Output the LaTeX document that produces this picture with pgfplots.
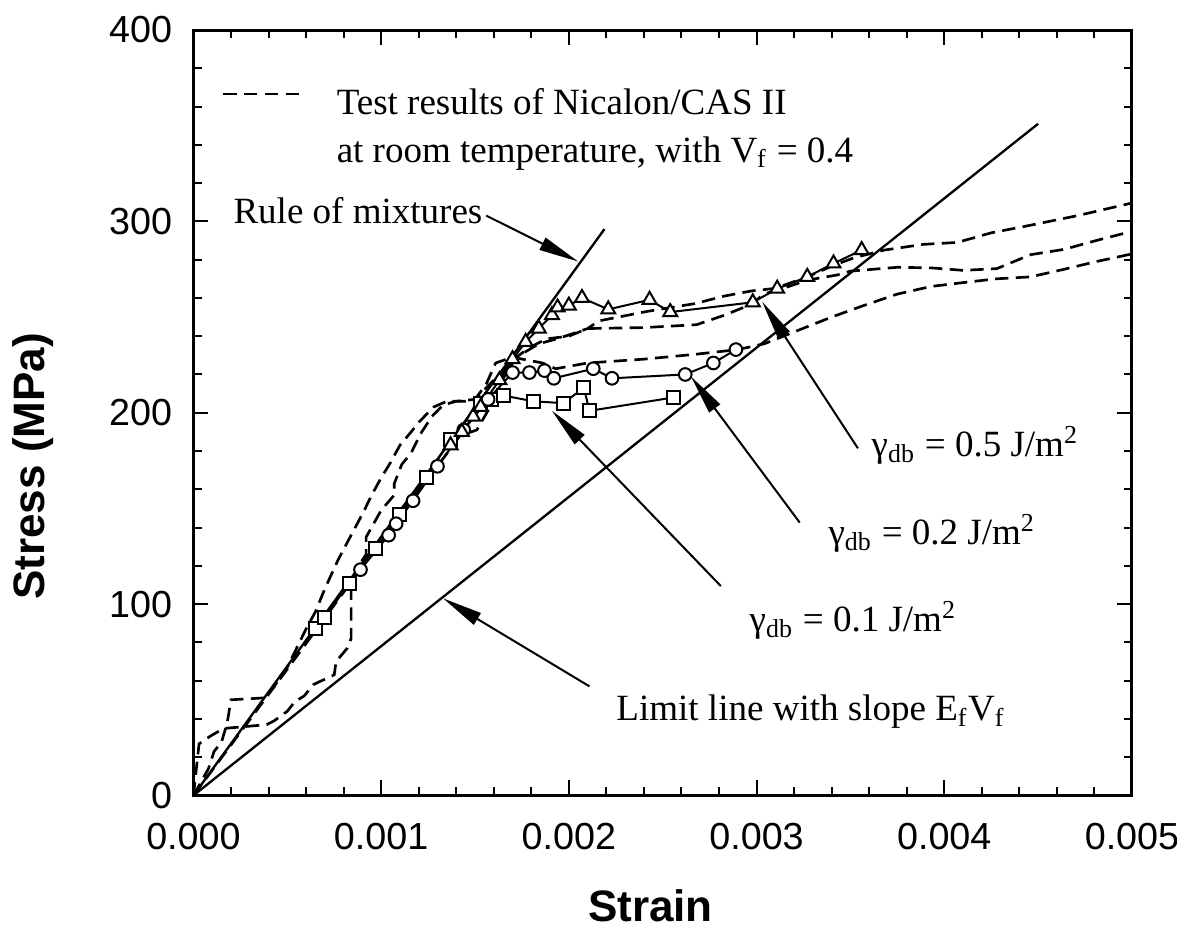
\documentclass[border=0pt]{standalone}
\usepackage{fontspec}
\setmainfont{Liberation Serif}
\setsansfont{Liberation Sans}
\usepackage{pgfplots}
\pgfplotsset{compat=1.18}
\usetikzlibrary{arrows.meta}
\newcommand{\annfont}{\fontsize{11.1}{13}\selectfont\rmfamily}
\tikzset{
  dashcurve/.style={black, line width=0.8pt, dash pattern=on 4pt off 2.2pt},
  arr/.style={black, line width=0.6pt, -{Triangle[length=12pt,width=4pt]}},
  ann/.style={anchor=base west, inner sep=0pt, font=\annfont},
}
\begin{document}
\begin{tikzpicture}
\begin{axis}[
  name=ax,
  scale only axis,
  width=281.4pt, height=229.5pt,
  xmin=0, xmax=0.005, ymin=0, ymax=400,
  scaled x ticks=false,
  axis line style={line width=0.9pt},
  xtick={0,0.001,0.002,0.003,0.004,0.005},
  xticklabels={0.000,0.001,0.002,0.003,0.004,0.005},
  ytick={0,100,200,300,400},
  yticklabels={0,100,200,300,400},
  minor x tick num=4, minor y tick num=4,
  tick align=inside,
  xticklabel pos=lower, yticklabel pos=left,
  xtick pos=both, ytick pos=both,
  major tick length=4.5pt, minor tick length=2.5pt,
  every tick/.style={black, line width=0.6pt},
  ticklabel style={font=\sffamily\fontsize{11.3}{13}\selectfont},
  xticklabel style={yshift=-4.7pt},
  yticklabel style={xshift=-2.9pt},
  xlabel={Strain}, ylabel={Stress (MPa)},
  every axis x label/.style={at={(axis description cs:0.487,-0.144)}, anchor=center, font=\sffamily\bfseries\fontsize{13.2}{16}\selectfont},
  every axis y label/.style={at={(axis description cs:-0.171,0.43)}, rotate=90, anchor=center, font=\sffamily\bfseries\fontsize{13.2}{16}\selectfont},
]
% test curves (dashed)
\addplot[dashcurve] coordinates {
(0,0) (0.00008,14) (0.00011,23) (0.00015,28) (0.00018,38) (0.0002,50) (0.00038,51)
(0.00043,57) (0.0005,67) (0.00055,77) (0.0006,87) (0.00065,96) (0.0007,108)
(0.00077,123) (0.00084,136) (0.0009,147) (0.00095,157) (0.001,166) (0.00105,174)
(0.0011,183) (0.00116,190) (0.0012,195) (0.00128,203) (0.00135,206) (0.00145,206)
(0.0015,207) (0.00156,215) (0.00161,226) (0.0017,229) (0.00186,226) (0.00193,223)
(0.0021,226) (0.0024,228) (0.00267,230.5) (0.0029,233) (0.00304,236) (0.00322,243)
(0.0034,250) (0.00357,256) (0.00375,262) (0.00393,266) (0.0041,268) (0.00428,270)
(0.00446,271) (0.00464,275) (0.00481,279) (0.005,283)};
\addplot[dashcurve] coordinates {
(0,0) (0.00003,27) (0.00009,31) (0.00016,35) (0.00039,37) (0.00043,39) (0.0005,44)
(0.00054,49) (0.00059,52) (0.00064,58) (0.00075,63) (0.00076,70) (0.00082,77)
(0.00084,82) (0.00084,112) (0.00088,120) (0.00092,126) (0.00092,135) (0.001,149)
(0.00107,157) (0.00107,163) (0.00111,173) (0.00116,179) (0.00121,189) (0.00127,198)
(0.00133,204) (0.0014,206) (0.0015,207) (0.00165,222) (0.00172,229) (0.00179,234)
(0.00188,238.6) (0.002,240) (0.0021,244) (0.0024,244.5) (0.00268,246) (0.00283,251)
(0.00297,256.6) (0.00304,262) (0.00316,265.6) (0.00327,269.3) (0.00343,272) (0.0035,274)
(0.00375,276) (0.00393,275.7) (0.0041,274.4) (0.00428,275.3) (0.00446,282.6)
(0.00464,285.4) (0.00481,290) (0.005,294.8)};
\addplot[dashcurve] coordinates {
(0,0) (0.0005,66) (0.001,133) (0.0013,172) (0.00142,188) (0.00151,191) (0.00158,203)
(0.00165,218) (0.00172,229) (0.00184,236) (0.00195,239) (0.0021,244) (0.00216,248)
(0.00242,253) (0.00267,257) (0.00283,261) (0.00297,263.6) (0.0031,265) (0.00327,271)
(0.00341,277) (0.00352,281) (0.00368,285) (0.00389,288) (0.00407,289) (0.00425,294)
(0.00446,298) (0.00471,303) (0.005,309.6)};
% rule of mixtures and limit line
\addplot[black, line width=0.7pt] coordinates {(0,0) (0.00219,296)};
\addplot[black, line width=0.7pt] coordinates {(0,0) (0.0045,351)};
% model: gamma_db = 0.1 (squares)
\addplot[black, line width=0.6pt, mark=square*, mark size=1.95pt,
  mark options={solid, fill=white, draw=black, line width=0.6pt}] coordinates {
(0.00065,87) (0.0007,93) (0.00083,111) (0.00097,129) (0.0011,147) (0.00124,166)
(0.00137,186) (0.00153,205) (0.00159,207) (0.00165,209) (0.00181,206) (0.00197,205)
(0.00208,213) (0.00211,201) (0.00256,208)};
% gamma_db = 0.2 (circles)
\addplot[black, line width=0.6pt, mark=*, mark size=1.9pt,
  mark options={solid, fill=white, draw=black, line width=0.6pt}] coordinates {
(0.00089,118) (0.00104,136) (0.00108,142) (0.00117,154) (0.0013,172) (0.00144,191)
(0.00157,207) (0.0017,221) (0.00179,221) (0.00187,222) (0.00192,218) (0.00213,223)
(0.00223,218) (0.00262,220) (0.00277,226) (0.00289,233)};
% gamma_db = 0.5 (triangles)
\addplot[black, line width=0.6pt, mark=triangle*, mark size=2.4pt,
  mark options={solid, fill=white, draw=black, line width=0.6pt}] coordinates {
(0.00137,183) (0.00143,190) (0.00149,198) (0.00153,203) (0.00163,217) (0.0017,228)
(0.00177,237) (0.00184,244) (0.00191,251) (0.00194,255) (0.002,256) (0.00207,260)
(0.00221,254) (0.00243,259) (0.00254,252.6) (0.00298,257.7) (0.00311,264.8)
(0.00327,271) (0.00341,278) (0.00356,285)};
% annotations
\draw[dashcurve] (axis cs:0.00016,366.5) -- (axis cs:0.00058,366.5);
\node[ann] at (axis cs:0.00076,356) {Test results of Nicalon/CAS II};
\node[ann] at (axis cs:0.00076,331) {at room temperature, with V\textsubscript{f} = 0.4};
\node[ann] at (axis cs:0.00021,299) {Rule of mixtures};
\draw[arr] (axis cs:0.00156,303) -- (axis cs:0.00205,279);
\node[ann] at (axis cs:0.00225,39) {Limit line with slope E\textsubscript{f}V\textsubscript{f}};
\draw[arr] (axis cs:0.00211,57) -- (axis cs:0.00133,103);
\node[ann] at (axis cs:0.00296,85.6) {γ\textsubscript{db} = 0.1 J/m\textsuperscript{2}};
\draw[arr] (axis cs:0.00281,109.4) -- (axis cs:0.00191,201);
\node[ann] at (axis cs:0.00338,131) {γ\textsubscript{db} = 0.2 J/m\textsuperscript{2}};
\draw[arr] (axis cs:0.00323,142.6) -- (axis cs:0.00265,219);
\node[ann] at (axis cs:0.00361,177) {γ\textsubscript{db} = 0.5 J/m\textsuperscript{2}};
\draw[arr] (axis cs:0.00354,181.4) -- (axis cs:0.00303,258);
\end{axis}
\pgfresetboundingbox
\path[use as bounding box] ([shift={(-58pt,-40pt)}]ax.south west) rectangle ([shift={(13.5pt,9pt)}]ax.north east);
\end{tikzpicture}
\end{document}
